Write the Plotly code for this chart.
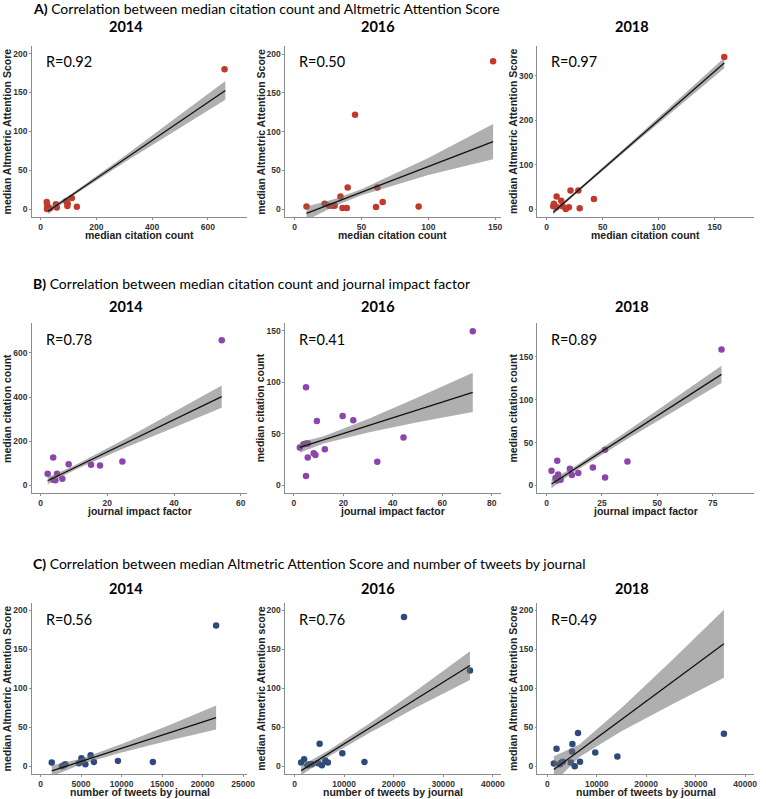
import numpy as np
import plotly.graph_objects as go

# ---------------- data ----------------
# A) median citation count vs median Altmetric Attention Score
A14_cit = [22, 24, 25, 23, 33, 55, 58, 92, 97, 96, 112, 130, 660]
A14_aas = [9, 5, 2, 0, 1, 6, 2, 10, 7, 4, 14, 3, 180]
A16_cit = [8.9, 22.5, 25.9, 28.4, 29.9, 34.3, 35.8, 39.0, 39.7, 45.2, 60.9, 61.9, 65.9, 92.8, 148.5]
A16_aas = [3.4, 6.9, 4.3, 4.3, 4.3, 16.3, 1.3, 1.3, 27.9, 121.9, 2.6, 27.9, 9.0, 3.4, 191]
A18_cit = [5.9, 6.5, 8.9, 8.9, 13.0, 14.2, 17.1, 19.8, 21.3, 28.3, 29.5, 42.2, 158.5]
A18_aas = [6.0, 12.0, 4.5, 28.4, 18.7, 6.0, 0.0, 3.7, 41.9, 41.9, 1.5, 22.4, 342.6]

# B) journal impact factor vs median citation count
B14_jif = [2.1, 3.75, 3.75, 4.4, 4.9, 6.5, 8.4, 15.1, 17.8, 24.5, 54.3]
B14_cit = [52.6, 126, 25.6, 22.6, 52.6, 30, 96, 93, 90, 108, 657]
B16_jif = [2.4, 4.0, 4.9, 5.7, 5.6, 4.9, 8.0, 8.7, 9.3, 12.5, 19.7, 24.0, 33.7, 44.3, 4.9, 72.3]
B16_cit = [36.8, 40.0, 40.6, 40.6, 27.1, 95.2, 31.3, 29.4, 62.6, 35.2, 67.4, 63.2, 22.9, 46.5, 9.0, 149.7]
B18_jif = [2.2, 4.0, 4.8, 4.8, 5.2, 6.3, 10.5, 11.4, 14.3, 20.9, 26.4, 26.4, 36.5, 79.0]
B18_cit = [17.0, 8.5, 5.8, 28.7, 12.8, 6.6, 19.4, 12.0, 14.3, 20.9, 41.5, 9.3, 27.9, 158.5]

# C) number of tweets by journal vs median Altmetric Attention Score
C14_tw = [1382, 2642, 2846, 3049, 4715, 5040, 5203, 5528, 6179, 6585, 9553, 13862, 21667]
C14_aas = [4.7, 0.0, 1.3, 2.6, 3.9, 10.3, 7.3, 2.6, 14.1, 5.6, 6.9, 5.6, 180.7]
C16_tw = [1331, 1929, 2595, 2994, 3526, 4724, 5057, 5522, 6188, 6720, 9647, 14105, 22089, 35396]
C16_aas = [4.7, 9.0, 1.3, 2.6, 2.6, 3.9, 28.7, 1.3, 7.3, 4.7, 16.7, 5.6, 191, 122.5]
C18_tw = [1338, 1873, 2542, 2809, 3144, 4749, 5017, 5084, 5552, 6221, 6622, 9699, 14181, 35719]
C18_aas = [3.4, 22.3, 2.6, 4.3, 5.6, 4.7, 18.9, 28.3, 0.0, 42.5, 5.6, 17.6, 12.4, 41.6]

# fitted regression lines (end points) and 95% CI half-widths
A14_fit_x, A14_fit_y = [27, 663], [-3, 152.6]
A14_band_x, A14_band_hw = [27, 110, 300, 480, 663], [3.5, 2, 4, 7.5, 12]
A16_fit_x, A16_fit_y = [8.9, 148.5], [-5.6, 87.1]
A16_band_x, A16_band_hw = [8.9, 30, 50, 100, 148.5], [9, 4.5, 4, 11, 22.7]
A18_fit_x, A18_fit_y = [5.9, 158.5], [-7.5, 329]
A18_band_x, A18_band_hw = [5.9, 25, 80, 120, 158.5], [5, 3, 5, 8, 12]
B14_fit_x, B14_fit_y = [2.1, 54.3], [21, 401.5]
B14_band_x, B14_band_hw = [2.1, 10, 25, 40, 54.3], [16, 10, 20, 34, 50]
B16_fit_x, B16_fit_y = [2.4, 72.3], [36.8, 90.3]
B16_band_x, B16_band_hw = [2.4, 12, 30, 50, 72.3], [5, 3.5, 6.5, 12, 19]
B18_fit_x, B18_fit_y = [2.2, 79.0], [1.6, 129.5]
B18_band_x, B18_band_hw = [2.2, 12, 35, 60, 79.0], [5, 3, 4.5, 7.5, 10]
C14_fit_x, C14_fit_y = [1382, 21667], [-6, 62.5]
C14_band_x, C14_band_hw = [1382, 5000, 10000, 16000, 21667], [7, 3.5, 5.5, 10, 15.4]
C16_fit_x, C16_fit_y = [1331, 35396], [-5.6, 128.9]
C16_band_x, C16_band_hw = [1331, 7000, 15000, 25000, 35396], [6, 4, 6, 11, 18.4]
C18_fit_x, C18_fit_y = [1338, 35719], [-4.3, 156.7]
C18_band_x, C18_band_hw = [1338, 6500, 15000, 25000, 35719], [17, 8, 15, 28, 43.5]

R_texts = ["R=0.92", "R=0.50", "R=0.97", "R=0.78", "R=0.41", "R=0.89", "R=0.56", "R=0.76", "R=0.49"]
years = ["2014", "2016", "2018"]
section_titles = [
    "<b>A)</b> Correlation between median citation count and Altmetric Attention Score",
    "<b>B)</b> Correlation between median citation count and journal impact factor",
    "<b>C)</b> Correlation between median Altmetric Attention Score and number of tweets by journal",
]
x_titles = ["median citation count"] * 3 + ["journal impact factor"] * 3 + ["number of tweets by journal"] * 3
y_titles = ["median Altmetric Attention Score"] * 3 + ["median citation count"] * 3 + [
    "median Altmetric Attention Score", "median Altmetric Attention score", "median Altmetric Attention Score"]

# tick values
A14_xt, A16_xt, A18_xt = [0, 200, 400, 600], [0, 50, 100, 150], [0, 50, 100, 150]
A_yt, A18_yt = [0, 50, 100, 150, 200], [0, 100, 200, 300]
B14_xt, B16_xt, B18_xt = [0, 20, 40, 60], [0, 20, 40, 60, 80], [0, 25, 50, 75]
B14_yt, B16_yt, B18_yt = [0, 200, 400, 600], [0, 50, 100, 150], [0, 50, 100, 150]
C14_xt, C_xt = [0, 5000, 10000, 15000, 20000, 25000], [0, 10000, 20000, 30000, 40000]
C_yt = [0, 50, 100, 150, 200]

# ---------------- layout geometry ----------------
W, H = 766, 799
cols_px = [(32, 250), (288, 506), (543, 762)]
rows_px = [(46, 217), (323, 493), (603, 774)]
x_ranges = [[-32, 742], [-7.2, 154.2], [-8.3, 185.1],
            [-2.7, 62], [-3.6, 83.6], [-4.2, 93.7],
            [-1098, 25528], [-1930, 41600], [-2007, 41806]]
y_ranges = [[-10.3, 209.8], [-10.3, 210.7], [-18, 367.3],
            [-34.6, 735], [-7.4, 157.7], [-8.9, 189.5],
            [-9.9, 209.4], [-9.9, 209], [-10, 209]]
x_ticks = [A14_xt, A16_xt, A18_xt, B14_xt, B16_xt, B18_xt, C14_xt, C_xt, C_xt]
y_ticks = [A_yt, A_yt, A18_yt, B14_yt, B16_yt, B18_yt, C_yt, C_yt, C_yt]

panels = [
    (A14_cit, A14_aas, A14_fit_x, A14_fit_y, A14_band_x, A14_band_hw),
    (A16_cit, A16_aas, A16_fit_x, A16_fit_y, A16_band_x, A16_band_hw),
    (A18_cit, A18_aas, A18_fit_x, A18_fit_y, A18_band_x, A18_band_hw),
    (B14_jif, B14_cit, B14_fit_x, B14_fit_y, B14_band_x, B14_band_hw),
    (B16_jif, B16_cit, B16_fit_x, B16_fit_y, B16_band_x, B16_band_hw),
    (B18_jif, B18_cit, B18_fit_x, B18_fit_y, B18_band_x, B18_band_hw),
    (C14_tw, C14_aas, C14_fit_x, C14_fit_y, C14_band_x, C14_band_hw),
    (C16_tw, C16_aas, C16_fit_x, C16_fit_y, C16_band_x, C16_band_hw),
    (C18_tw, C18_aas, C18_fit_x, C18_fit_y, C18_band_x, C18_band_hw),
]
point_colors = ["#c0392b"] * 3 + ["#8e44ad"] * 3 + ["#2e4a7d"] * 3

TITLE_FONT = "Lato, 'Open Sans', sans-serif"
AX_FONT = "'Liberation Sans', Arial, sans-serif"
AXIS_GRAY = "#8c8c8c"

fig = go.Figure()
layout_axes = {}
annotations = []

for i, (xs, ys, fx, fy, bx, bhw) in enumerate(panels):
    r, c = divmod(i, 3)
    n = "" if i == 0 else str(i + 1)
    xa, ya = "x" + n, "y" + n
    x0, x1 = cols_px[c]
    y0, y1 = rows_px[r]
    # scatter points
    fig.add_trace(go.Scatter(x=xs, y=ys, mode="markers", xaxis=xa, yaxis=ya,
                             marker=dict(color=point_colors[i], size=6.5, line=dict(width=0)),
                             showlegend=False, hoverinfo="x+y"))
    # confidence band
    bx = np.array(bx, dtype=float)
    line_at = np.interp(bx, fx, fy)
    lo = line_at - np.array(bhw)
    hi = line_at + np.array(bhw)
    fig.add_trace(go.Scatter(x=list(bx) + list(bx[::-1]), y=list(hi) + list(lo[::-1]),
                             mode="lines", fill="toself", fillcolor="rgba(110,110,110,0.55)",
                             line=dict(width=0), xaxis=xa, yaxis=ya, showlegend=False,
                             hoverinfo="skip"))
    # regression line
    fig.add_trace(go.Scatter(x=fx, y=fy, mode="lines", xaxis=xa, yaxis=ya,
                             line=dict(color="#111111", width=1.3), showlegend=False,
                             hoverinfo="skip"))

    common = dict(showgrid=False, zeroline=False, showline=True, linecolor=AXIS_GRAY,
                  linewidth=1, ticks="outside", ticklen=1.5, tickcolor=AXIS_GRAY,
                  tickfont=dict(family=AX_FONT, size=8.5, color="#333333", weight="bold"),
                  tickformat="d", fixedrange=True)
    layout_axes["xaxis" + n] = dict(common, domain=[x0 / W, x1 / W], range=x_ranges[i],
                                    tickvals=x_ticks[i], anchor=ya)
    layout_axes["yaxis" + n] = dict(common, domain=[1 - y1 / H, 1 - y0 / H], range=y_ranges[i],
                                    tickvals=y_ticks[i], anchor=xa)

    pw, ph = x1 - x0, y1 - y0
    # R annotation
    annotations.append(dict(text=R_texts[i], xref=xa + " domain", yref=ya + " domain",
                            x=12 / pw, y=1 - 16 / ph, xanchor="left", yanchor="middle",
                            showarrow=False, font=dict(family=TITLE_FONT, size=14.5, color="#000")))
    # axis titles
    annotations.append(dict(text="<b>" + x_titles[i] + "</b>", xref=xa + " domain", yref=ya + " domain",
                            x=0.5, y=-18 / ph, xanchor="center", yanchor="middle", showarrow=False,
                            borderpad=0, font=dict(family=AX_FONT, size=10.5, color="#222")))
    annotations.append(dict(text="<b>" + y_titles[i] + "</b>", xref=xa + " domain", yref=ya + " domain",
                            x=-25 / pw, y=0.5, xanchor="center", yanchor="middle", showarrow=False,
                            borderpad=0, textangle=-90, font=dict(family=AX_FONT, size=10.5, color="#222")))

# year titles
year_x = [127, 382, 639]
year_y = [27, 307, 588]
for r in range(3):
    for c in range(3):
        annotations.append(dict(text="<b>" + years[c] + "</b>", xref="paper", yref="paper",
                                x=year_x[c] / W, y=1 - year_y[r] / H, xanchor="center",
                                yanchor="middle", showarrow=False,
                                font=dict(family=TITLE_FONT, size=14.5, color="#000")))

# section titles
sec_y = [8, 284, 563]
for r in range(3):
    annotations.append(dict(text=section_titles[r], xref="paper", yref="paper",
                            x=31 / W, y=1 - sec_y[r] / H, xanchor="left", yanchor="middle",
                            showarrow=False, font=dict(family=TITLE_FONT, size=14, color="#000")))

fig.update_layout(width=W, height=H, margin=dict(l=0, r=0, t=0, b=0),
                  paper_bgcolor="white", plot_bgcolor="white",
                  annotations=annotations, **layout_axes)
fig.write_html("out.html", config={"displayModeBar": False},
               post_script="document.body.style.margin='0px';")
